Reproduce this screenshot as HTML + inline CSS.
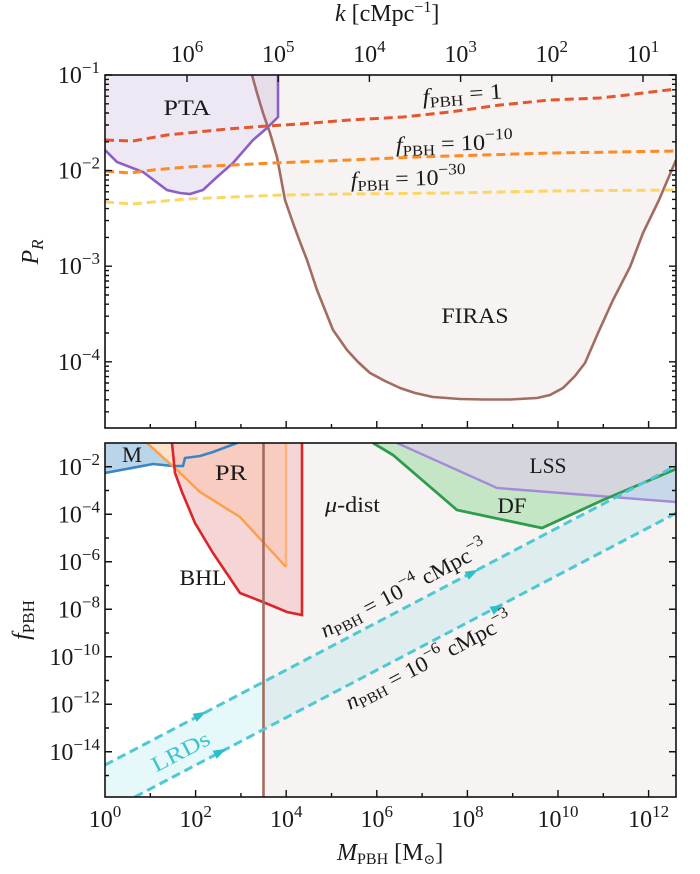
<!DOCTYPE html>
<html><head><meta charset="utf-8">
<style>
body{margin:0;background:#fff}
svg{display:block}
text{font-family:"Liberation Serif","DejaVu Serif",serif;fill:#1a1a1a}
</style></head>
<body>
<svg width="700" height="874" viewBox="0 0 700 874" xmlns="http://www.w3.org/2000/svg">
<defs>
<clipPath id="tc"><rect x="105" y="75" width="571" height="353"/></clipPath>
<clipPath id="bc"><rect x="105" y="443" width="571" height="354"/></clipPath>
<clipPath id="dfc"><path d="M373,443 L393,455 L457,510 L542,528 L603,500 L676,469 L676,443 Z"/></clipPath>
<clipPath id="bhlc"><path d="M172,443 L175,473 L182,492 L195,523 L213,553 L240,593 L263,602 L287,612 L302,615 L302,443 Z"/></clipPath>
</defs>

<!-- ================= TOP PANEL ================= -->
<g clip-path="url(#tc)">
<path d="M252,75 L257,93 L263,113 L270,133 L277,157 L285,200 L293,223 L300,242 L307,260 L317,290 L333,330 L347,350 L358,362 L370,373 L385,381 L400,388 L415,393 L433,397 L460,399 L483,399.5 L510,399.5 L537,398 L550,395 L563,388 L575,376 L585,363 L598,333 L613,300 L630,267 L643,233 L659,200 L676,160 L676,75 Z" fill="#f7f3f2"/>
<path d="M252,75 L257,93 L263,113 L270,133 L277,157 L285,200 L293,223 L300,242 L307,260 L317,290 L333,330 L347,350 L358,362 L370,373 L385,381 L400,388 L415,393 L433,397 L460,399 L483,399.5 L510,399.5 L537,398 L550,395 L563,388 L575,376 L585,363 L598,333 L613,300 L630,267 L643,233 L659,200 L676,160" fill="none" stroke="#a26d60" stroke-width="2.6" stroke-linejoin="round"/>
<path d="M105,75 L278,75 L278,117 L267,128 L253,140 L233,163 L217,177 L203,190 L190,194 L180,193 L167,190 L143,172 L117,162 L105,150 Z" fill="#9467bd" fill-opacity="0.16"/>
<path d="M278,75 L278,117 L267,128 L253,140 L233,163 L217,177 L203,190 L190,194 L180,193 L167,190 L143,172 L117,162 L105,150" fill="none" stroke="#8b5fc7" stroke-width="2.6"/>
<path d="M105,140 L133,141 L167,135 L187,133 L227,129 L267,126 L300,124 L350,120 L403,117 L450,112 L500,105 L550,100 L600,98 L627,95 L676,89" fill="none" stroke="#e4572e" stroke-width="3" stroke-dasharray="9 5"/>
<path d="M105,171 L130,173 L153,170 L187,167 L233,165 L273,163 L350,160 L417,157 L483,155 L550,153 L617,152 L676,151" fill="none" stroke="#fb8b24" stroke-width="3" stroke-dasharray="9 5"/>
<path d="M105,202 L133,204 L153,202 L187,199 L233,197 L283,195 L350,194 L450,193 L550,191 L676,190" fill="none" stroke="#fdd662" stroke-width="3" stroke-dasharray="9 5"/>
</g>

<text x="187" y="115" font-size="22" text-anchor="middle" textLength="47" lengthAdjust="spacingAndGlyphs">PTA</text>
<text x="475" y="323" font-size="22" text-anchor="middle" textLength="67" lengthAdjust="spacingAndGlyphs">FIRAS</text>
<text x="423" y="104" font-size="22" transform="rotate(-4 423 104)" textLength="80" lengthAdjust="spacingAndGlyphs"><tspan font-style="italic">f</tspan><tspan font-size="15" dy="4">PBH</tspan><tspan dy="-4"> = 1</tspan></text>
<text x="396" y="152" font-size="22" transform="rotate(-1.5 396 152)" textLength="117" lengthAdjust="spacingAndGlyphs"><tspan font-style="italic">f</tspan><tspan font-size="15" dy="4">PBH</tspan><tspan dy="-4"> = 10</tspan><tspan font-size="16" dy="-10">−10</tspan></text>
<text x="351" y="187" font-size="22" transform="rotate(-1.5 351 187)" textLength="115" lengthAdjust="spacingAndGlyphs"><tspan font-style="italic">f</tspan><tspan font-size="15" dy="4">PBH</tspan><tspan dy="-4"> = 10</tspan><tspan font-size="16" dy="-10">−30</tspan></text>

<rect x="105" y="75" width="571" height="353" fill="none" stroke="#111" stroke-width="1.6"/>
<g stroke="#111" stroke-width="1.4" fill="none">
<path d="M105,75h7M105,170.6h7M105,266.2h7M105,361.8h7 M676,75h-7M676,170.6h-7M676,266.2h-7M676,361.8h-7"/>
<path d="M105,141.8h4M105,125h4M105,113h4M105,103.8h4M105,96.2h4M105,89.8h4M105,84.3h4M105,79.4h4M105,237.4h4M105,220.6h4M105,208.6h4M105,199.4h4M105,191.8h4M105,185.4h4M105,179.9h4M105,175h4M105,333h4M105,316.2h4M105,304.2h4M105,295h4M105,287.4h4M105,281h4M105,275.5h4M105,270.6h4M105,411.8h4M105,399.8h4M105,390.6h4M105,383h4M105,376.6h4M105,371.1h4M105,366.2h4"/>
<path d="M676,141.8h-4M676,125h-4M676,113h-4M676,103.8h-4M676,96.2h-4M676,89.8h-4M676,84.3h-4M676,79.4h-4M676,237.4h-4M676,220.6h-4M676,208.6h-4M676,199.4h-4M676,191.8h-4M676,185.4h-4M676,179.9h-4M676,175h-4M676,333h-4M676,316.2h-4M676,304.2h-4M676,295h-4M676,287.4h-4M676,281h-4M676,275.5h-4M676,270.6h-4M676,411.8h-4M676,399.8h-4M676,390.6h-4M676,383h-4M676,376.6h-4M676,371.1h-4M676,366.2h-4"/>
<path d="M187,75v7M278.2,75v7M369.4,75v7M460.6,75v7M551.8,75v7M643,75v7"/>
<path d="M195.6,428v-7M286.2,428v-7M376.8,428v-7M467.4,428v-7M558,428v-7M648.6,428v-7 M150.3,428v-4M240.9,428v-4M331.5,428v-4M422.1,428v-4M512.7,428v-4M603.3,428v-4"/>
</g>

<g font-size="24" text-anchor="end">
<text x="100" y="83">10<tspan font-size="17" dy="-10">−1</tspan></text>
<text x="100" y="178.6">10<tspan font-size="17" dy="-10">−2</tspan></text>
<text x="100" y="274.2">10<tspan font-size="17" dy="-10">−3</tspan></text>
<text x="100" y="369.8">10<tspan font-size="17" dy="-10">−4</tspan></text>
</g>
<g font-size="24" text-anchor="middle">
<text x="187" y="62">10<tspan font-size="17" dy="-10">6</tspan></text>
<text x="278.2" y="62">10<tspan font-size="17" dy="-10">5</tspan></text>
<text x="369.4" y="62">10<tspan font-size="17" dy="-10">4</tspan></text>
<text x="460.6" y="62">10<tspan font-size="17" dy="-10">3</tspan></text>
<text x="551.8" y="62">10<tspan font-size="17" dy="-10">2</tspan></text>
<text x="643" y="62">10<tspan font-size="17" dy="-10">1</tspan></text>
</g>
<text x="335" y="21" font-size="24"><tspan font-style="italic">k</tspan> [cMpc<tspan font-size="16" dy="-9">−1</tspan><tspan dy="9">]</tspan></text>
<text transform="translate(38,252) rotate(-90)" text-anchor="middle" font-size="24"><tspan font-style="italic">P</tspan><tspan font-size="17" dy="5" font-style="italic">R</tspan></text>

<!-- ================= BOTTOM PANEL ================= -->
<g clip-path="url(#bc)">
<rect x="263" y="443" width="413" height="354" fill="#f7f3f2"/>
<path d="M105,443 L237,443 L213,452 L200,456 L185,458 L183,466 L173,466 L153,464 L105,473 Z" fill="#bad5ea"/>
<path d="M147,443 L177,470 L200,492 L240,517 L263,542 L286,567 L286,443 Z" fill="#fde3cc"/>
<path d="M172,443 L175,473 L182,492 L195,523 L213,553 L240,593 L263,602 L287,612 L302,615 L302,443 Z" fill="#f6d5d6"/>
<path d="M147,443 L177,470 L200,492 L240,517 L263,542 L286,567 L286,443 Z" fill="#f8ccc1" clip-path="url(#bhlc)"/>
<path d="M397,443 L497,488 L676,502 L676,443 Z" fill="#dcdcee"/>
<path d="M373,443 L393,455 L457,510 L542,528 L603,500 L676,469 L676,443 Z" fill="#c5e6c5"/>
<path d="M397,443 L497,488 L676,502 L676,443 Z" fill="#d5d5dd" clip-path="url(#dfc)"/>
<path d="M105,765 L676,465.7 L676,513.2 L134.8,797 L105,797 Z" fill="#17becf" fill-opacity="0.1"/>

<path d="M105,473 L153,464 L173,466 L183,466 L185,458 L200,456 L213,452 L237,443" fill="none" stroke="#3a86c4" stroke-width="2.6"/>
<path d="M286,567 L286,443" fill="none" stroke="#fdb27a" stroke-width="2.4"/>
<path d="M147,443 L177,470 L200,492 L240,517 L263,542 L286,567" fill="none" stroke="#ff9e45" stroke-width="2.4"/>
<path d="M172,443 L175,473 L182,492 L195,523 L213,553 L240,593 L263,602 L287,612 L302,615 L302,443" fill="none" stroke="#d9262a" stroke-width="2.6"/>
<path d="M263.5,443 L263.5,797" stroke="#a26d60" stroke-width="2.6"/>
<path d="M397,443 L497,488 L676,502" fill="none" stroke="#a58bd6" stroke-width="2.4"/>
<path d="M373,443 L393,455 L457,510 L542,528 L603,500 L676,469" fill="none" stroke="#2e9b4e" stroke-width="2.8"/>
<path d="M105,765 L676,465.7" fill="none" stroke="#4ec9d3" stroke-width="3" stroke-dasharray="9 5"/>
<path d="M134.8,797 L676,513.2" fill="none" stroke="#4ec9d3" stroke-width="3" stroke-dasharray="9 5"/>
<g fill="#2bbfcb">
<path d="M7,0 L-6,-4.5 L-6,4.5 Z" transform="translate(200,715) rotate(-27.67)"/>
<path d="M7,0 L-6,-4.5 L-6,4.5 Z" transform="translate(472,573) rotate(-27.67)"/>
<path d="M7,0 L-6,-4.5 L-6,4.5 Z" transform="translate(220,752) rotate(-27.67)"/>
<path d="M7,0 L-6,-4.5 L-6,4.5 Z" transform="translate(497,608) rotate(-27.67)"/>
</g>
</g>

<text x="132" y="462" font-size="22" text-anchor="middle" textLength="20" lengthAdjust="spacingAndGlyphs">M</text>
<text x="231" y="480" font-size="22" text-anchor="middle" textLength="32" lengthAdjust="spacingAndGlyphs">PR</text>
<text x="203" y="585" font-size="22" text-anchor="middle" textLength="47" lengthAdjust="spacingAndGlyphs">BHL</text>
<text x="325" y="512" font-size="22" textLength="55" lengthAdjust="spacingAndGlyphs"><tspan font-style="italic">μ</tspan>-dist</text>
<text x="548" y="473" font-size="22" text-anchor="middle" textLength="37" lengthAdjust="spacingAndGlyphs">LSS</text>
<text x="512" y="513" font-size="22" text-anchor="middle" textLength="29" lengthAdjust="spacingAndGlyphs">DF</text>
<text x="325" y="638" font-size="22" transform="rotate(-27.67 325 638)" textLength="185" lengthAdjust="spacingAndGlyphs"><tspan font-style="italic">n</tspan><tspan font-size="15" dy="4">PBH</tspan><tspan dy="-4"> = 10</tspan><tspan font-size="16" dy="-10">−4</tspan><tspan dy="10"> cMpc</tspan><tspan font-size="16" dy="-10">−3</tspan></text>
<text x="350" y="710" font-size="22" transform="rotate(-27.67 350 710)" textLength="185" lengthAdjust="spacingAndGlyphs"><tspan font-style="italic">n</tspan><tspan font-size="15" dy="4">PBH</tspan><tspan dy="-4"> = 10</tspan><tspan font-size="16" dy="-10">−6</tspan><tspan dy="10"> cMpc</tspan><tspan font-size="16" dy="-10">−3</tspan></text>
<text x="184" y="758" font-size="22" text-anchor="middle" transform="rotate(-27.67 184 758)" textLength="63" lengthAdjust="spacingAndGlyphs" style="fill:#3cc5cf">LRDs</text>

<rect x="105" y="443" width="571" height="354" fill="none" stroke="#111" stroke-width="1.6"/>
<g stroke="#111" stroke-width="1.4" fill="none">
<path d="M105,466.75h7M105,514.25h7M105,561.75h7M105,609.25h7M105,656.75h7M105,704.25h7M105,751.75h7 M105,490.5h4M105,538h4M105,585.5h4M105,633h4M105,680.5h4M105,728h4M105,775.5h4"/>
<path d="M676,466.75h-7M676,514.25h-7M676,561.75h-7M676,609.25h-7M676,656.75h-7M676,704.25h-7M676,751.75h-7 M676,490.5h-4M676,538h-4M676,585.5h-4M676,633h-4M676,680.5h-4M676,728h-4M676,775.5h-4"/>
<path d="M195.6,797v-7M286.2,797v-7M376.8,797v-7M467.4,797v-7M558,797v-7M648.6,797v-7 M150.3,797v-4M240.9,797v-4M331.5,797v-4M422.1,797v-4M512.7,797v-4M603.3,797v-4"/>
</g>

<g font-size="24" text-anchor="end">
<text x="100" y="474.75">10<tspan font-size="17" dy="-10">−2</tspan></text>
<text x="100" y="522.25">10<tspan font-size="17" dy="-10">−4</tspan></text>
<text x="100" y="569.75">10<tspan font-size="17" dy="-10">−6</tspan></text>
<text x="100" y="617.25">10<tspan font-size="17" dy="-10">−8</tspan></text>
<text x="100" y="664.75">10<tspan font-size="17" dy="-10">−10</tspan></text>
<text x="100" y="712.25">10<tspan font-size="17" dy="-10">−12</tspan></text>
<text x="100" y="759.75">10<tspan font-size="17" dy="-10">−14</tspan></text>
</g>
<g font-size="24" text-anchor="middle">
<text x="105" y="827">10<tspan font-size="17" dy="-10">0</tspan></text>
<text x="195.6" y="827">10<tspan font-size="17" dy="-10">2</tspan></text>
<text x="286.2" y="827">10<tspan font-size="17" dy="-10">4</tspan></text>
<text x="376.8" y="827">10<tspan font-size="17" dy="-10">6</tspan></text>
<text x="467.4" y="827">10<tspan font-size="17" dy="-10">8</tspan></text>
<text x="558" y="827">10<tspan font-size="17" dy="-10">10</tspan></text>
<text x="648.6" y="827">10<tspan font-size="17" dy="-10">12</tspan></text>
</g>
<text x="337" y="860" font-size="24"><tspan font-style="italic">M</tspan><tspan font-size="16" dy="4">PBH</tspan><tspan dy="-4"> [M</tspan><tspan font-size="14" dy="4">⊙</tspan><tspan dy="-4">]</tspan></text>
<text transform="translate(29,620) rotate(-90)" text-anchor="middle" font-size="24"><tspan font-style="italic">f</tspan><tspan font-size="17" dy="5">PBH</tspan></text>
</svg>
</body></html>
